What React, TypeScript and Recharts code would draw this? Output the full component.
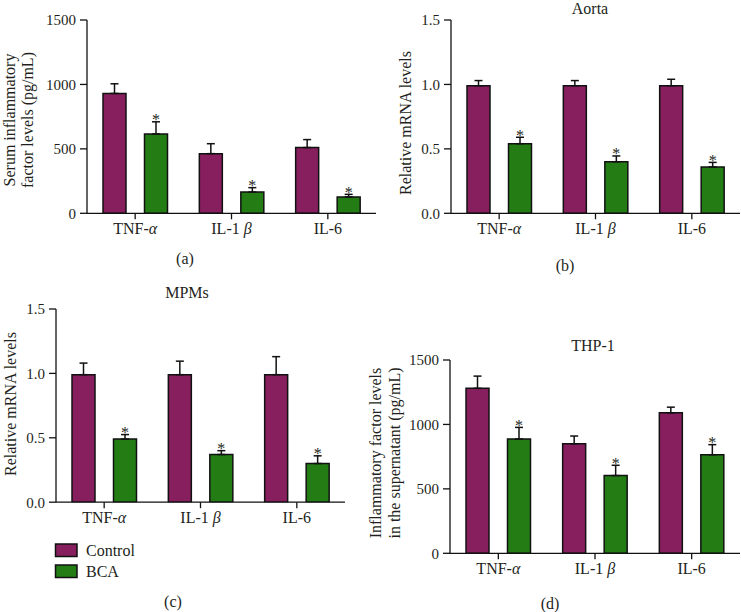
import React from 'react';
import { BarChart, Bar, XAxis, YAxis, ErrorBar, Rectangle } from 'recharts';

const categories = ['TNF-α', 'IL-1 β', 'IL-6'];

const serumControl = [930, 463, 510];
const serumControlErr = [75, 77, 62];
const serumBCA = [615, 165, 127];
const serumBCAErr = [95, 34, 20];

const aortaControl = [0.99, 0.99, 0.99];
const aortaControlErr = [0.04, 0.04, 0.05];
const aortaBCA = [0.54, 0.4, 0.36];
const aortaBCAErr = [0.05, 0.045, 0.035];

const mpmControl = [0.99, 0.99, 0.99];
const mpmControlErr = [0.09, 0.105, 0.14];
const mpmBCA = [0.49, 0.37, 0.3];
const mpmBCAErr = [0.035, 0.03, 0.06];

const thpControl = [1280, 850, 1090];
const thpControlErr = [95, 60, 44];
const thpBCA = [887, 603, 765];
const thpBCAErr = [90, 80, 78];

const pgTicks = [0, 500, 1000, 1500];
const relTicks = [0, 0.5, 1.0, 1.5];

const CONTROL = '#871f5e';
const BCA = '#247d14';
const INK = '#231f20';
const FONT = '"Liberation Serif", "Times New Roman", serif';

const build = (c: number[], ce: number[], b: number[], be: number[]) =>
  categories.map((name, i) => ({
    name,
    control: c[i],
    controlErr: [0, ce[i]],
    bca: b[i],
    bcaErr: [0, be[i]],
  }));

const XTick = (props: any) => {
  const { x, y, payload } = props;
  const parts = String(payload.value).split(/([α-ω])/).filter((p) => p !== '');
  return (
    <text x={x} y={y} dy="0.71em" textAnchor="middle" fontFamily={FONT} fontSize={16} fill={INK}>
      {parts.map((p, i) =>
        /[α-ω]/.test(p) ? (
          <tspan key={i} fontStyle="italic">
            {p}
          </tspan>
        ) : (
          <tspan key={i}>{p}</tspan>
        )
      )}
    </text>
  );
};

const BcaShape = (props: any) => {
  const { x, y, width, height, payload } = props;
  const ppu = payload.bca ? height / payload.bca : 0;
  const errTop = y - payload.bcaErr[1] * ppu;
  return (
    <g>
      <Rectangle x={x} y={y} width={width} height={height} fill={BCA} stroke="#111" strokeWidth={1.5} />
      <text x={x + width / 2} y={errTop + 3.5} textAnchor="middle" fontFamily={FONT} fontSize={16} fill={INK}>
        *
      </text>
    </g>
  );
};

type PanelProps = {
  data: any[];
  L: number;
  T: number;
  R: number;
  B: number;
  max: number;
  ticks: number[];
  fmt: (v: number) => string;
};

const Panel = ({ data, L, T, R, B, max, ticks, fmt }: PanelProps) => {
  const yW = 60;
  const mt = 10;
  const xH = 40;
  const left = L - yW;
  const top = T - mt;
  const width = R - left + 1;
  const height = B + xH - top;
  return (
    <div style={{ position: 'absolute', left, top, width, height }}>
      <BarChart
        width={width}
        height={height}
        data={data}
        margin={{ top: mt, right: 1, left: 0, bottom: 0 }}
        barSize={23}
        barGap={18.5}
      >
        <YAxis
          width={yW}
          domain={[0, max]}
          ticks={ticks}
          type="number"
          allowDataOverflow
          axisLine={{ stroke: '#111', strokeWidth: 1.3 }}
          tickLine={{ stroke: '#111', strokeWidth: 1.3 }}
          tickSize={7}
          tickMargin={4}
          tickFormatter={fmt}
          tick={{ fontFamily: FONT, fontSize: 15, fill: INK }}
        />
        <XAxis
          dataKey="name"
          height={xH}
          axisLine={{ stroke: '#111', strokeWidth: 1.3 }}
          tickLine={{ stroke: '#111', strokeWidth: 1.3 }}
          tickSize={6}
          tickMargin={3}
          tick={<XTick />}
          interval={0}
        />
        <Bar dataKey="control" fill={CONTROL} stroke="#111" strokeWidth={1.5} isAnimationActive={false}>
          <ErrorBar dataKey="controlErr" width={4} stroke="#111" strokeWidth={1.5} direction="y" />
        </Bar>
        <Bar dataKey="bca" fill={BCA} stroke="#111" strokeWidth={1.5} isAnimationActive={false} shape={<BcaShape />}>
          <ErrorBar dataKey="bcaErr" width={4} stroke="#111" strokeWidth={1.5} direction="y" />
        </Bar>
      </BarChart>
    </div>
  );
};

const pgFmt = (v: number) => String(v);
const relFmt = (v: number) => v.toFixed(1);

const serumData = build(serumControl, serumControlErr, serumBCA, serumBCAErr);
const aortaData = build(aortaControl, aortaControlErr, aortaBCA, aortaBCAErr);
const mpmData = build(mpmControl, mpmControlErr, mpmBCA, mpmBCAErr);
const thpData = build(thpControl, thpControlErr, thpBCA, thpBCAErr);

const T = (p: any) => (
  <text fontFamily={FONT} fontSize={16} fill={INK} textAnchor="middle" dominantBaseline="central" {...p} />
);

const VT = ({ x, y, children }: any) => (
  <text
    x={x}
    y={y}
    transform={`rotate(-90 ${x} ${y})`}
    fontFamily={FONT}
    fontSize={16}
    fill={INK}
    textAnchor="middle"
    dominantBaseline="central"
  >
    {children}
  </text>
);

export default function App() {
  return (
    <div style={{ position: 'absolute', left: 0, top: 0, width: 741, height: 612, overflow: 'hidden', background: '#fff' }}>
      <Panel data={serumData} L={87} T={20} R={376} B={213.3} max={1500} ticks={pgTicks} fmt={pgFmt} />
      <Panel data={aortaData} L={451} T={20} R={740} B={213.3} max={1.5} ticks={relTicks} fmt={relFmt} />
      <Panel data={mpmData} L={56} T={309.3} R={345} B={502.5} max={1.5} ticks={relTicks} fmt={relFmt} />
      <Panel data={thpData} L={450} T={360} R={740} B={553.3} max={1500} ticks={pgTicks} fmt={pgFmt} />
      <svg width={741} height={612} style={{ position: 'absolute', left: 0, top: 0, pointerEvents: 'none' }}>
        <T x={185} y={258}>(a)</T>
        <T x={565} y={265}>(b)</T>
        <T x={590} y={8}>Aorta</T>
        <T x={187} y={292}>MPMs</T>
        <T x={173} y={601}>(c)</T>
        <T x={593} y={345}>THP-1</T>
        <T x={550} y={603}>(d)</T>
        <VT x={9} y={120}>Serum inflammatory</VT>
        <VT x={27} y={120}>factor levels (pg/mL)</VT>
        <VT x={405} y={123}>Relative mRNA levels</VT>
        <VT x={10} y={404}>Relative mRNA levels</VT>
        <VT x={375} y={453}>Inflammatory factor levels</VT>
        <VT x={394} y={453}>in the supernatant (pg/mL)</VT>
        <rect x={55.5} y={544} width={21.5} height={12.5} fill={CONTROL} stroke="#111" strokeWidth={1.5} />
        <rect x={55.5} y={565} width={21.5} height={12.5} fill={BCA} stroke="#111" strokeWidth={1.5} />
        <text x={86} y={550} fontFamily={FONT} fontSize={16} fill={INK} dominantBaseline="central">Control</text>
        <text x={86} y={571} fontFamily={FONT} fontSize={16} fill={INK} dominantBaseline="central">BCA</text>
      </svg>
    </div>
  );
}
